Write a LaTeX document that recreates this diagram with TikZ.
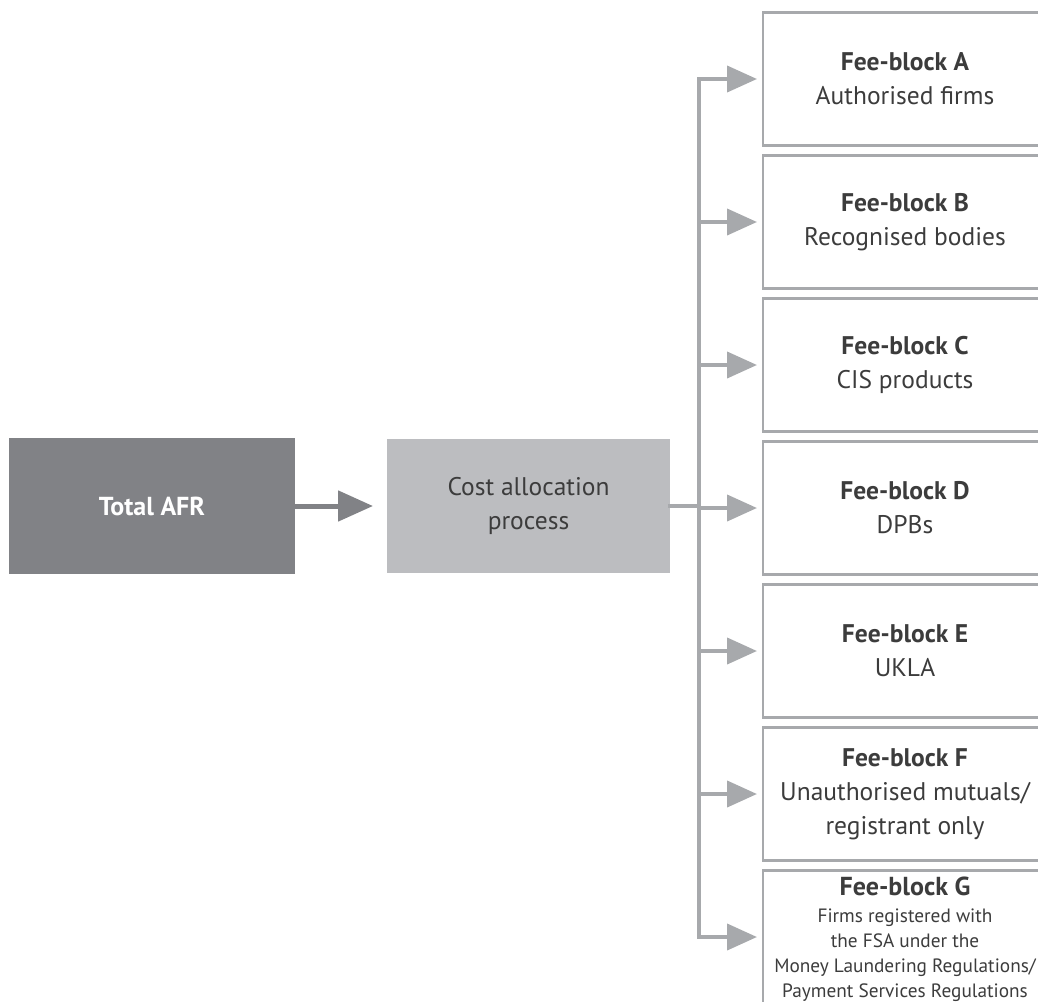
\documentclass[tikz,border=0pt]{standalone}
\usepackage{fontspec}
\setmainfont{PT Sans}
\usetikzlibrary{positioning,arrows.meta}
\definecolor{darkgrey}{HTML}{818286}
\definecolor{lightgrey}{HTML}{BCBDC0}
\definecolor{linegrey}{HTML}{A7A9AC}
\definecolor{textgrey}{HTML}{3C3C3C}

\begin{document}
\begin{tikzpicture}[
    x=1pt,y=-1pt,
    box/.style={rectangle,minimum height=133pt,inner sep=4pt,outer sep=0pt,
                align=center,text=textgrey,font=\fontsize{25.5}{34}\selectfont},
    feebox/.style={box,draw=linegrey,line width=2.5pt,minimum width=284pt},
    mainarr/.style={-{Triangle[length=35pt,width=30pt]},line width=5pt,
                    draw=darkgrey,shorten >=14pt},
    branch/.style={-{Triangle[length=30pt,width=26pt]},line width=4pt,
                   draw=linegrey,shorten >=6pt},
    trunk/.style={line width=4pt,draw=linegrey,line cap=rect},
    node distance=10pt and 92pt,
  ]
    \useasboundingbox (0,0) rectangle (1038,1001);
    \node[box,fill=darkgrey,text=white,minimum width=286pt,minimum height=136pt,
          font=\fontsize{26}{34}\selectfont\bfseries] (total) at (152,506) {Total AFR};
    \node[box,fill=lightgrey,minimum width=283pt,minimum height=134pt,
          right=of total] (cost) {Cost allocation\\ process};
    \node[feebox,anchor=north west] (A) at (763,12.5) {\textbf{Fee-block A}\\ Authorised firms};
    \node[feebox,below=of A] (B) {\textbf{Fee-block B}\\ Recognised bodies};
    \node[feebox,below=of B] (C) {\textbf{Fee-block C}\\ CIS products};
    \node[feebox,below=of C] (D) {\textbf{Fee-block D}\\ DPBs};
    \node[feebox,below=of D] (E) {\textbf{Fee-block E}\\ UKLA};
    \node[feebox,below=of E] (F) {\textbf{Fee-block F}\\ Unauthorised mutuals/\\ registrant only};
    \node[feebox,below=of F,inner ysep=6pt,font=\fontsize{19.3}{24.8}\selectfont] (G)
      {{\fontsize{26}{24.8}\selectfont\bfseries Fee-block G}\\[3pt]
       Firms registered with\\ the FSA under the\\
       Money Laundering Regulations/\\ Payment Services Regulations};
    \coordinate (split) at (699,0);
    \coordinate (Gin) at ([yshift=-66.5pt]G.north west);
    \draw[mainarr] (total) -- (cost);
    \draw[trunk] (cost.east) -- (cost.east -| split);
    \draw[trunk] (A.west -| split) -- (Gin -| split);
    \foreach \b in {A,B,C,D,E,F}
      \draw[branch] (\b.west -| split) -- (\b.west);
    \draw[branch] (Gin -| split) -- (Gin);
\end{tikzpicture}
\end{document}
